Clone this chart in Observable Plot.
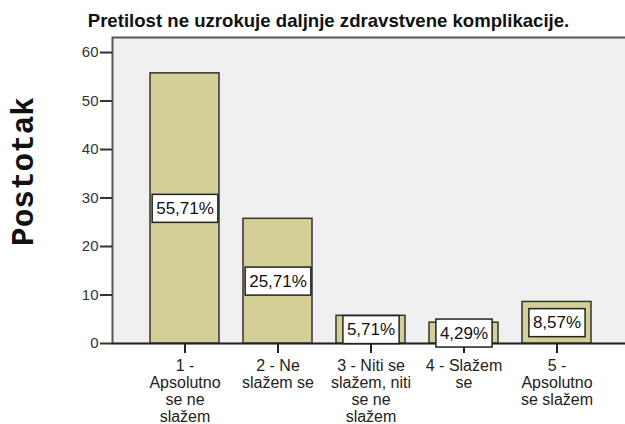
<!DOCTYPE html>
<html><head><meta charset="utf-8">
<script src="https://cdn.jsdelivr.net/npm/d3@7"></script>
<script src="https://cdn.jsdelivr.net/npm/@observablehq/plot@0.6"></script>
<style>body{margin:0;background:#fff}</style>
</head><body><div id="chart"></div>
<script>
const title = "Pretilost ne uzrokuje daljnje zdravstvene komplikacije.";
const yLabel = "Postotak";
const categories = [
  "1 -\nApsolutno\nse ne\nslažem",
  "2 - Ne\nslažem se",
  "3 - Niti se\nslažem, niti\nse ne\nslažem",
  "4 - Slažem\nse",
  "5 -\nApsolutno\nse slažem"
];
const percents = [55.71, 25.71, 5.71, 4.29, 8.57];
const yTicks = [0, 10, 20, 30, 40, 50, 60];
const yMax = 63.1;

const data = categories.map((c, i) => ({
  category: c,
  value: percents[i],
  label: percents[i].toFixed(2).replace(".", ",") + "%"
}));

const chart = Plot.plot({
  width: 625, height: 424,
  marginTop: 37, marginBottom: 81, marginLeft: 112, marginRight: -3,
  style: {fontFamily: "'Liberation Sans', Arial, sans-serif", background: "#fff", color: "#111", overflow: "hidden"},
  x: {domain: categories, paddingInner: 0.26, paddingOuter: 0.4, axis: null},
  y: {domain: [0, yMax], axis: null},
  marks: [
    Plot.frame({fill: "#f0f0f0", stroke: "#555", strokeWidth: 2}),
    Plot.barY(data, {x: "category", y: "value", fill: "#d3cf97", stroke: "#333", strokeWidth: 1.5}),
    Plot.ruleY([0], {stroke: "#222", strokeWidth: 1.5}),
    Plot.axisY({ticks: yTicks, label: null, tickSize: 12, tickPadding: 2, fontSize: 15, color: "#333", strokeWidth: 2}),
    Plot.axisX({label: null, tickSize: 10, tickPadding: 5.5, fontSize: 16, lineHeight: 1.0625, color: "#222", strokeWidth: 2}),
    Plot.text(data, {x: "category", y: d => d.value / 2, text: "label", fontSize: 17, fill: "#111"}),
    Plot.text([yLabel], {frameAnchor: "left", rotate: -90, dx: -89, dy: -19, textAnchor: "middle", lineAnchor: "middle",
      fontFamily: "'Liberation Mono', 'Courier New', monospace", fontWeight: "bold", fontSize: 31, fill: "#111"}),
    Plot.text([title], {frameAnchor: "top", dx: -42, dy: -16, textAnchor: "middle", lineAnchor: "middle",
      fontWeight: "bold", fontSize: 18.6, fill: "#111"})
  ]
});
document.getElementById("chart").appendChild(chart);

// white boxes behind the value labels, sized from each rendered label
const labelSet = new Set(data.map(d => d.label));
Array.from(chart.querySelectorAll("text"))
  .filter(t => labelSet.has(t.textContent.trim()))
  .forEach(t => {
    const b = t.getBBox();
    const r = document.createElementNS("http://www.w3.org/2000/svg", "rect");
    const padX = 4, padY = 4.5;
    r.setAttribute("x", b.x - padX);
    r.setAttribute("y", b.y - padY);
    r.setAttribute("width", b.width + 2 * padX);
    r.setAttribute("height", b.height + 2 * padY);
    r.setAttribute("fill", "#fff");
    r.setAttribute("stroke", "#222");
    r.setAttribute("stroke-width", "1.5");
    if (t.getAttribute("transform")) r.setAttribute("transform", t.getAttribute("transform"));
    t.parentNode.insertBefore(r, t);
  });
</script>
</body></html>
